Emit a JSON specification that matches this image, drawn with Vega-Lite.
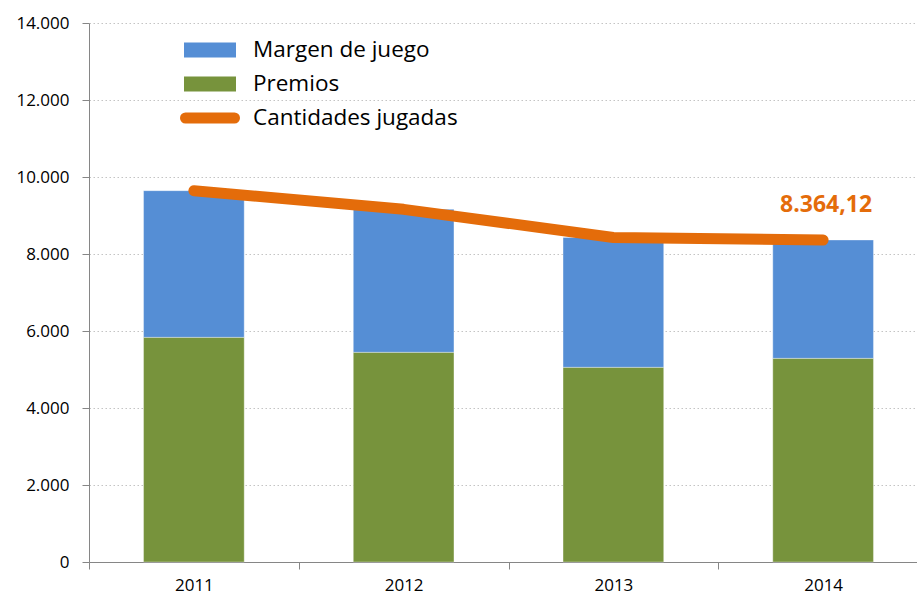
{
  "$schema": "https://vega.github.io/schema/vega-lite/v6.json",
  "width": 839,
  "height": 539,
  "autosize": {"type": "none"},
  "padding": {"left": 89, "top": 23, "right": 0, "bottom": 35},
  "background": "white",
  "config": {
    "view": {"stroke": null},
    "font": "Open Sans",
    "locale": {"number": {"decimal": ",", "thousands": ".", "grouping": [3], "currency": ["", " €"]}},
    "axis": {"labelFont": "Open Sans", "labelColor": "#000000", "domainColor": "#868686", "tickColor": "#868686", "title": null}
  },
  "datasets": {
    "barras": [
      {"anio": "2011", "serie": "Premios", "valor": 5836},
      {"anio": "2011", "serie": "Margen de juego", "valor": 3809},
      {"anio": "2012", "serie": "Premios", "valor": 5447},
      {"anio": "2012", "serie": "Margen de juego", "valor": 3713},
      {"anio": "2013", "serie": "Premios", "valor": 5057},
      {"anio": "2013", "serie": "Margen de juego", "valor": 3373},
      {"anio": "2014", "serie": "Premios", "valor": 5290},
      {"anio": "2014", "serie": "Margen de juego", "valor": 3074.12}
    ],
    "total": [
      {"anio": "2011", "serie": "Cantidades jugadas", "total": 9645},
      {"anio": "2012", "serie": "Cantidades jugadas", "total": 9160},
      {"anio": "2013", "serie": "Cantidades jugadas", "total": 8430},
      {"anio": "2014", "serie": "Cantidades jugadas", "total": 8364.12}
    ]
  },
  "layer": [
    {
      "data": {"name": "barras"},
      "mark": {"type": "bar", "width": {"band": 0.48}, "stroke": "white", "strokeOpacity": 0.35, "strokeWidth": 1},
      "encoding": {
        "x": {
          "field": "anio", "type": "ordinal",
          "scale": {"paddingInner": 0, "paddingOuter": 0},
          "axis": {"labelAngle": 0, "labelFontSize": 17, "tickBand": "extent", "tickSize": 7, "labelPadding": 8, "grid": false}
        },
        "y": {
          "field": "valor", "type": "quantitative", "stack": "zero",
          "scale": {"domain": [0, 14000], "nice": false},
          "axis": {
            "values": [0, 2000, 4000, 6000, 8000, 10000, 12000, 14000],
            "format": ",d", "labelFontSize": 17, "tickSize": 7, "labelPadding": 13,
            "grid": true, "gridColor": "#C4C4C4", "gridDash": [1.5, 2.5], "gridWidth": 1.2
          }
        },
        "fill": {
          "field": "serie", "type": "nominal",
          "scale": {"domain": ["Margen de juego", "Premios"], "range": ["#558ED5", "#77933C"]},
          "legend": {
            "orient": "none", "legendX": 95, "legendY": 10, "title": null,
            "symbolType": "M-1,-0.288H1V0.288H-1Z", "symbolSize": 2704, "symbolStrokeWidth": 0,
            "labelFontSize": 22.5, "labelFont": "Open Sans", "labelColor": "#000000", "labelOffset": 17,
            "labelLimit": 500, "clipHeight": 34, "rowPadding": 0
          }
        },
        "order": {"field": "serie", "sort": "descending"}
      }
    },
    {
      "data": {"name": "total"},
      "mark": {"type": "line", "strokeWidth": 11, "strokeCap": "round", "strokeJoin": "round"},
      "encoding": {
        "x": {"field": "anio", "type": "ordinal"},
        "y": {"field": "total", "type": "quantitative"},
        "stroke": {
          "field": "serie", "type": "nominal",
          "scale": {"domain": ["Cantidades jugadas"], "range": ["#E46C0A"]},
          "legend": {
            "orient": "none", "legendX": 91, "legendY": 78, "title": null,
            "symbolType": "stroke", "symbolSize": 2401, "symbolStrokeWidth": 11,
            "labelFontSize": 22.5, "labelFont": "Open Sans", "labelColor": "#000000", "labelOffset": 13,
            "labelLimit": 500, "clipHeight": 34,
            "encode": {"symbols": {"update": {"strokeCap": {"value": "round"}}}}
          }
        }
      }
    },
    {
      "data": {"name": "total"},
      "transform": [{"filter": "datum.anio == '2014'"}],
      "mark": {"type": "text", "font": "Open Sans", "fontSize": 23, "fontWeight": "bold", "color": "#E46C0A", "align": "center", "baseline": "alphabetic", "dy": -28, "dx": 3},
      "encoding": {
        "x": {"field": "anio", "type": "ordinal"},
        "y": {"field": "total", "type": "quantitative"},
        "text": {"field": "total", "type": "quantitative", "format": ",.2f"}
      }
    }
  ]
}
